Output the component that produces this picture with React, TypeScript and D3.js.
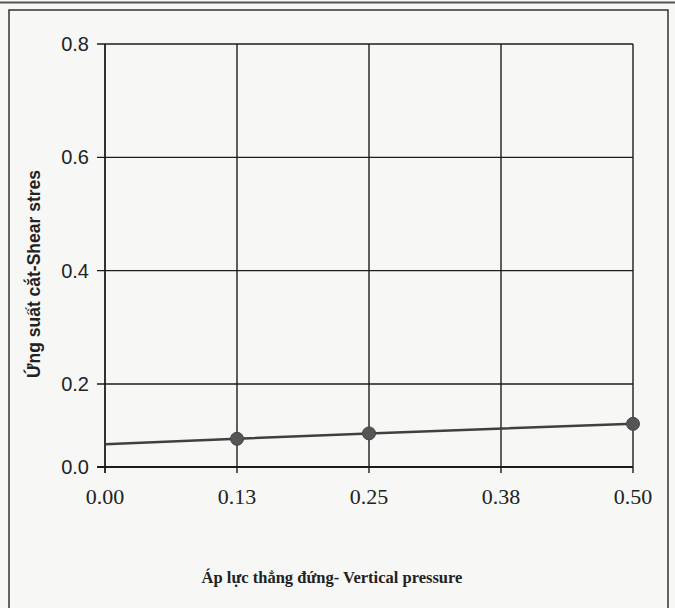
import React from "react";
import * as d3 from "d3";

// Vertical pressure (x) against shear stress (y)
const pressureValues = [0.125, 0.25, 0.5];
const shearValues = [0.068, 0.081, 0.104];
// Trend line runs from the intercept at zero pressure through the measurements
const trendStart = { x: 0, y: 0.055 };

const xTickValues = [0, 0.125, 0.25, 0.375, 0.5];
const xTickLabels = ["0.00", "0.13", "0.25", "0.38", "0.50"];
const yTickValues = [0, 0.2, 0.4, 0.6, 0.8];
const yTickLabels = ["0.0", "0.2", "0.4", "0.6", "0.8"];

const xTitle = "Áp lực thẳng đứng- Vertical pressure";
const yTitle = "Ứng suất cắt-Shear stres";

const W = 675;
const H = 608;
const left = 105;
const right = 633;
const top = 44;
const bottom = 467;

export default function App() {
  const x = d3.scaleLinear().domain([0, 0.5]).range([left, right]);
  // The printed axis is compressed below 0.2, so the scale is piecewise linear
  const y = d3.scaleLinear().domain([0, 0.2, 0.8]).range([bottom, 384, top]);

  const linePts: [number, number][] = [
    [trendStart.x, trendStart.y],
    ...pressureValues.map((p, i) => [p, shearValues[i]] as [number, number]),
  ];
  const line = d3
    .line<[number, number]>()
    .x((d) => x(d[0]))
    .y((d) => y(d[1]));

  const ink = "#1c1c1c";

  return (
    <svg
      width={W}
      height={H}
      style={{ position: "absolute", left: 0, top: 0, background: "#f7f7f6" }}
    >
      {/* page frame */}
      <line x1={0} x2={W} y1={2.5} y2={2.5} stroke="#555" strokeWidth={2} />
      <path
        d={`M9,${H} L9,10 L668,10 L668,${H}`}
        fill="none"
        stroke="#333"
        strokeWidth={1.5}
      />

      {/* horizontal gridlines and y ticks */}
      {yTickValues.map((v, i) => (
        <g key={"y" + i}>
          <line
            x1={left - 8}
            x2={right}
            y1={y(v)}
            y2={y(v)}
            stroke={ink}
            strokeWidth={i === 0 ? 2 : 1.4}
          />
          <text
            x={89}
            y={y(v)}
            dy="0.35em"
            textAnchor="end"
            fontFamily="Liberation Sans, Arial, sans-serif"
            fontSize={20}
            fill="#222"
          >
            {yTickLabels[i]}
          </text>
        </g>
      ))}

      {/* vertical gridlines and x ticks */}
      {xTickValues.map((v, i) => (
        <g key={"x" + i}>
          <line
            x1={x(v)}
            x2={x(v)}
            y1={top}
            y2={bottom + 6}
            stroke={ink}
            strokeWidth={i === 0 ? 1.8 : 1.4}
          />
          <text
            x={x(v)}
            y={504}
            textAnchor="middle"
            fontFamily="Liberation Serif, Times New Roman, serif"
            fontSize={22}
            fill="#222"
          >
            {xTickLabels[i]}
          </text>
        </g>
      ))}

      {/* trend line */}
      <path d={line(linePts) ?? ""} fill="none" stroke="#404040" strokeWidth={2.5} />

      {/* measured points */}
      {pressureValues.map((p, i) => (
        <circle key={"p" + i} cx={x(p)} cy={y(shearValues[i])} r={6.5} fill="#555" stroke="#444" />
      ))}

      {/* axis titles */}
      <text
        x={332}
        y={583}
        textAnchor="middle"
        fontFamily="Liberation Serif, Times New Roman, serif"
        fontWeight="bold"
        fontSize={16.5}
        fill="#222"
      >
        {xTitle}
      </text>
      <text
        transform={`translate(40,${274}) rotate(-90)`}
        textAnchor="middle"
        fontFamily="Liberation Sans, Arial, sans-serif"
        fontWeight="bold"
        fontSize={17.5}
        fill="#222"
      >
        {yTitle}
      </text>
    </svg>
  );
}
